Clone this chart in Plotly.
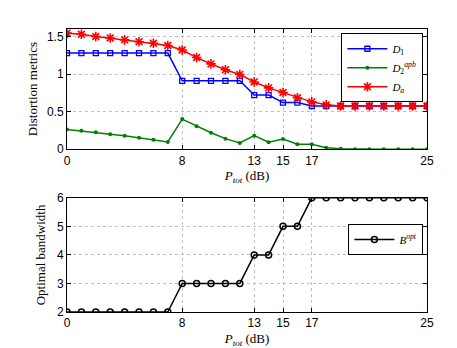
import plotly.graph_objects as go

# data
p_tot = list(range(26))

d1 = [1.28] * 8 + [0.91] * 5 + [0.72, 0.72, 0.62, 0.62] + [0.575] * 9
d2_apb = [0.263, 0.245, 0.224, 0.20, 0.18, 0.153, 0.126, 0.096,
          0.40, 0.306, 0.218, 0.14, 0.083, 0.18, 0.092, 0.135, 0.066, 0.066,
          0.02, 0.005, 0.0, 0.0, 0.0, 0.0, 0.0, 0.0]
d_a = [1.545, 1.53, 1.50, 1.48, 1.455, 1.43, 1.41, 1.38,
       1.32, 1.22, 1.135, 1.057, 0.995, 0.895, 0.816, 0.754, 0.684, 0.63,
       0.59, 0.575, 0.575, 0.575, 0.575, 0.575, 0.575, 0.575]
b_opt = [2] * 8 + [3] * 5 + [4, 4, 5, 5] + [6] * 9

x_ticks = [0, 8, 13, 15, 17, 25]

tick_font = dict(family="Liberation Sans, Arial, sans-serif", size=12, color="black")
serif = "Liberation Serif, DejaVu Serif, serif"

fig = go.Figure()

fig.add_trace(go.Scatter(
    x=p_tot, y=d1, mode="lines+markers", name="<i>D</i><sub>1</sub>",
    line=dict(color="#0000ff", width=1.5),
    marker=dict(symbol="square-open", size=5, color="#0000ff", line=dict(width=1.3)),
    xaxis="x", yaxis="y"))
fig.add_trace(go.Scatter(
    x=p_tot, y=d2_apb, mode="lines+markers", name="<i>D</i><sub>2</sub><sup><i>apb</i></sup>",
    line=dict(color="#008000", width=1.5),
    marker=dict(symbol="circle", size=4, color="#008000"),
    xaxis="x", yaxis="y"))
fig.add_trace(go.Scatter(
    x=p_tot, y=d_a, mode="lines+markers", name="<i>D</i><sub><i>a</i></sub>",
    line=dict(color="#ff0000", width=1.5),
    marker=dict(symbol="asterisk-open", size=8, color="#ff0000", line=dict(width=1.6, color="#ff0000")),
    xaxis="x", yaxis="y"))

fig.add_trace(go.Scatter(
    x=p_tot, y=b_opt, mode="lines+markers", name="<i>B</i><sup><i>opt</i></sup>",
    line=dict(color="black", width=1.5),
    marker=dict(symbol="circle-open", size=6, color="black", line=dict(width=1.5)),
    xaxis="x2", yaxis="y2", legend="legend2"))

axis_common = dict(
    showline=True, linecolor="black", linewidth=1, mirror="ticks",
    ticks="inside", ticklen=4, tickcolor="black",
    showgrid=True, gridcolor="#c0c0c0", griddash="dot", gridwidth=1,
    zeroline=False, tickfont=tick_font)

xtitle = dict(text="<i>P</i><sub><i>tot</i></sub> (dB)", font=dict(family=serif, size=13, color="black"),
              standoff=4)

fig.update_layout(
    width=457, height=348,
    paper_bgcolor="white", plot_bgcolor="white",
    margin=dict(l=59, r=38, t=21, b=42),
    showlegend=True,
    xaxis=dict(axis_common, domain=[0, 1], range=[0, 25], tickvals=x_ticks, anchor="y",
               title=xtitle),
    yaxis=dict(axis_common, domain=[0.5754, 1], range=[0, 1.6], tickvals=[0, 0.5, 1, 1.5],
               ticktext=["0", "0.5", "1", "1.5"], anchor="x",
               title=dict(text="Distortion metrics", font=dict(family=serif, size=13, color="black"),
                          standoff=6)),
    xaxis2=dict(axis_common, domain=[0, 1], range=[0, 25], tickvals=x_ticks, anchor="y2",
                title=xtitle),
    yaxis2=dict(axis_common, domain=[0, 0.4035], range=[2, 6], tickvals=[2, 3, 4, 5, 6], anchor="x2",
                title=dict(text="Optimal bandwidth", font=dict(family=serif, size=13, color="black"),
                           standoff=8)),
    legend=dict(x=0.99, y=0.985, xanchor="right", yanchor="top",
                bgcolor="white", bordercolor="black", borderwidth=1,
                font=dict(family=serif, size=11, color="black"),
                tracegroupgap=0, itemwidth=40),
    legend2=dict(x=0.99, y=0.256, xanchor="right", yanchor="middle",
                 bgcolor="white", bordercolor="black", borderwidth=1,
                 font=dict(family=serif, size=11, color="black"), itemwidth=40),
)

fig.write_html("out.html")
